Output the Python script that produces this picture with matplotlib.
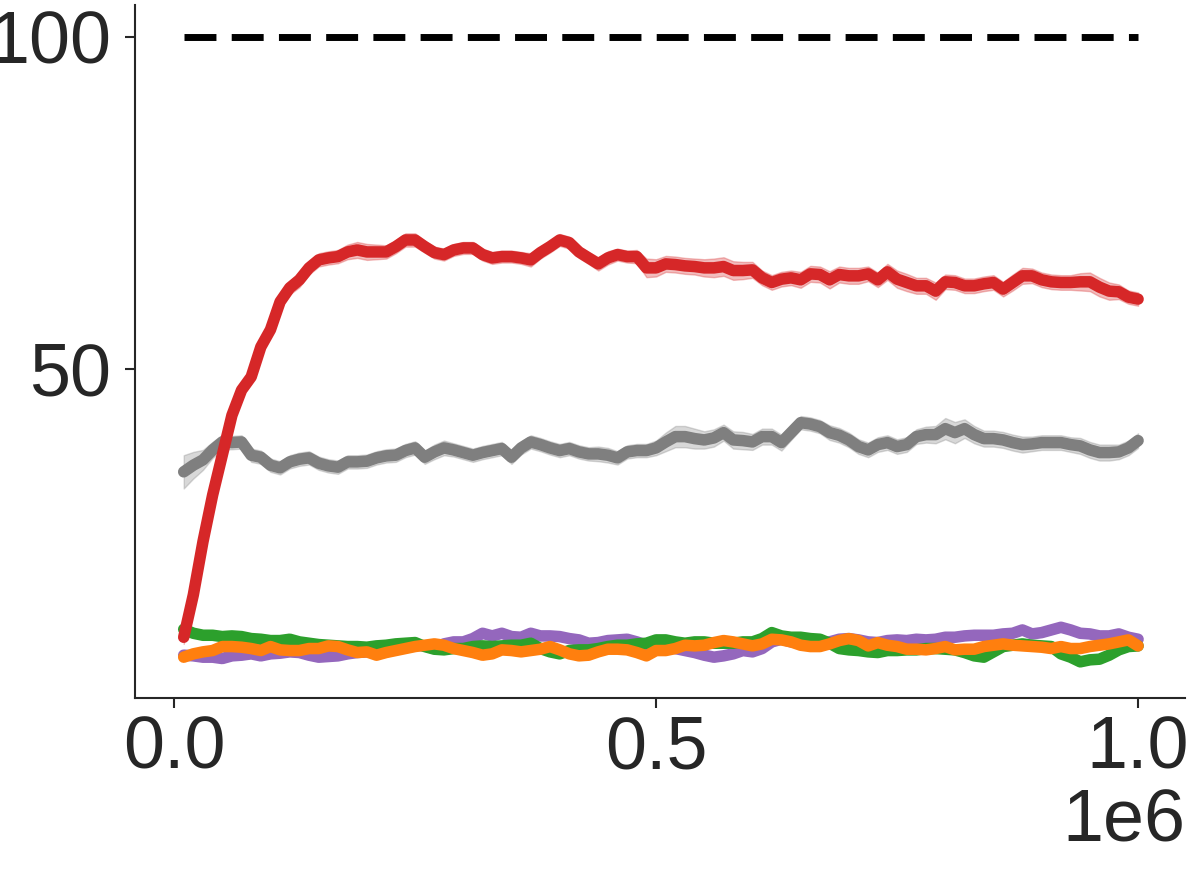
import matplotlib
matplotlib.use("Agg")
import matplotlib.pyplot as plt
import numpy as np

# training steps (x axis), 100 evaluation points
steps = np.arange(1, 101) * 10000

red = [9.6, 16.0, 24.0, 31.0, 37.0, 43.0, 46.8, 48.8, 53.3, 55.9,
       60.1, 62.2, 63.4, 65.2, 66.4, 66.7, 66.9, 67.6, 67.9, 67.6,
       67.6, 67.6, 68.4, 69.4, 69.4, 68.4, 67.5, 67.2, 67.9, 68.2,
       68.2, 67.2, 66.7, 66.9, 66.9, 66.7, 66.4, 67.5, 68.4, 69.4,
       69.0, 67.6, 66.7, 65.8, 66.7, 67.2, 66.9, 66.9, 65.2, 65.2,
       65.8, 65.7, 65.5, 65.4, 65.2, 65.2, 65.4, 64.8, 64.8, 64.9,
       63.7, 63.0, 63.5, 63.7, 63.4, 64.3, 64.2, 63.4, 64.2, 64.0,
       64.0, 64.3, 63.4, 64.6, 63.5, 63.0, 62.5, 62.5, 61.7, 63.1,
       63.0, 62.5, 62.5, 62.8, 63.0, 62.0, 63.0, 64.0, 64.0, 63.4,
       63.1, 63.0, 63.0, 63.1, 63.1, 62.3, 61.7, 61.6, 60.8, 60.5]
red_std = [1.0, 1.0, 1.0, 1.0, 1.0, 1.0, 1.0, 1.0, 1.0, 1.0,
           1.0, 1.0, 1.1, 1.0, 1.0, 1.0, 1.0, 1.1, 1.2, 1.2,
           1.1, 1.0, 1.0, 1.0, 1.0, 0.9, 0.9, 0.9, 0.9, 0.9,
           0.9, 0.9, 0.9, 0.9, 0.9, 0.9, 1.0, 0.9, 0.9, 0.9,
           0.9, 0.9, 0.9, 1.0, 1.0, 0.9, 0.9, 1.0, 1.4, 1.3,
           1.2, 1.2, 1.2, 1.2, 1.3, 1.4, 1.4, 1.4, 1.3, 1.2,
           1.1, 1.1, 1.1, 1.1, 1.2, 1.2, 1.2, 1.3, 1.2, 1.2,
           1.2, 1.1, 1.1, 1.2, 1.3, 1.3, 1.2, 1.2, 1.3, 1.1,
           1.1, 1.1, 1.1, 1.1, 1.1, 1.1, 1.2, 1.2, 1.1, 1.1,
           1.1, 1.1, 1.1, 1.3, 1.4, 1.4, 1.3, 1.1, 1.0, 1.0]

grey = [34.5, 35.5, 36.3, 37.8, 39.0, 38.9, 39.0, 37.0, 36.7, 35.5,
        35.1, 36.0, 36.4, 36.6, 35.8, 35.4, 35.2, 36.0, 36.0, 36.1,
        36.6, 36.9, 37.0, 37.7, 38.1, 36.7, 37.5, 38.1, 37.8, 37.4,
        37.0, 37.4, 37.7, 38.0, 36.7, 38.1, 39.0, 38.6, 38.1, 37.7,
        38.0, 37.5, 37.2, 37.2, 37.0, 36.6, 37.5, 37.7, 37.7, 38.1,
        39.0, 39.8, 39.8, 39.5, 39.3, 39.6, 40.4, 39.3, 39.2, 39.0,
        39.8, 39.8, 38.9, 40.4, 41.9, 41.7, 41.3, 40.4, 40.0, 39.3,
        38.3, 37.8, 38.6, 38.9, 38.3, 38.6, 39.8, 40.1, 40.1, 41.0,
        40.4, 41.0, 40.1, 39.5, 39.5, 39.3, 38.9, 38.6, 38.7, 38.9,
        38.9, 38.9, 38.6, 38.4, 37.8, 37.4, 37.4, 37.5, 38.1, 39.2]
grey_std = [2.5, 2.0, 1.5, 1.2, 1.1, 1.0, 1.0, 1.0, 1.0, 1.0,
            1.0, 1.0, 1.0, 1.0, 1.0, 1.0, 1.0, 1.0, 1.0, 1.0,
            1.0, 1.0, 1.0, 1.0, 1.0, 1.0, 1.1, 1.1, 1.0, 1.0,
            1.0, 1.0, 1.0, 1.0, 1.0, 1.0, 1.0, 1.0, 1.0, 1.0,
            1.0, 1.0, 1.0, 1.1, 1.1, 1.0, 1.0, 1.0, 1.0, 1.1,
            1.4, 1.6, 1.6, 1.5, 1.3, 1.3, 1.2, 1.3, 1.3, 1.2,
            1.2, 1.2, 1.2, 1.1, 1.0, 1.0, 1.0, 1.1, 1.1, 1.1,
            1.1, 1.1, 1.1, 1.1, 1.1, 1.1, 1.1, 1.2, 1.3, 1.6,
            1.6, 1.4, 1.3, 1.2, 1.2, 1.2, 1.2, 1.2, 1.1, 1.1,
            1.1, 1.1, 1.1, 1.2, 1.2, 1.2, 1.2, 1.1, 1.1, 1.1]

green = [10.8, 10.2, 9.9, 9.9, 9.7, 9.8, 9.7, 9.4, 9.3, 9.1,
         9.1, 9.3, 8.9, 8.7, 8.5, 8.4, 8.3, 8.2, 8.2, 8.1,
         8.3, 8.4, 8.6, 8.7, 8.8, 8.2, 7.8, 7.7, 7.9, 7.9,
         8.2, 8.3, 8.2, 8.3, 8.4, 8.4, 8.7, 7.9, 7.4, 7.1,
         7.6, 7.7, 7.7, 7.9, 8.2, 8.4, 8.4, 8.6, 8.7, 9.2,
         9.2, 8.9, 8.7, 8.9, 8.9, 8.7, 8.7, 8.7, 8.9, 8.9,
         9.4, 10.3, 9.8, 9.6, 9.6, 9.4, 9.3, 8.7, 7.9, 7.7,
         7.6, 7.4, 7.3, 7.6, 7.6, 7.7, 7.7, 7.9, 7.9, 7.8,
         7.7, 7.3, 6.8, 6.6, 7.4, 8.2, 8.4, 8.6, 8.4, 8.3,
         8.2, 7.1, 6.6, 5.9, 6.2, 6.3, 6.9, 7.7, 8.2, 8.3]

purple = [6.9, 6.8, 6.6, 6.6, 6.4, 6.8, 6.9, 7.1, 6.8, 7.1,
          7.2, 7.4, 7.3, 6.9, 6.6, 6.7, 6.8, 7.1, 7.3, 7.4,
          7.4, 7.7, 7.9, 8.2, 8.4, 8.3, 7.9, 8.6, 8.9, 8.9,
          9.4, 10.2, 9.8, 10.2, 9.7, 9.6, 10.2, 9.8, 9.8, 9.7,
          9.4, 9.2, 8.7, 8.8, 9.1, 9.2, 9.3, 8.9, 8.4, 8.2,
          8.2, 7.9, 7.6, 7.3, 6.9, 6.6, 6.8, 7.1, 7.6, 7.4,
          7.9, 8.9, 9.3, 8.9, 8.7, 8.8, 8.7, 8.9, 9.3, 9.4,
          9.2, 8.9, 8.8, 9.1, 9.2, 9.1, 9.3, 9.2, 9.3, 9.6,
          9.6, 9.8, 9.9, 9.9, 9.9, 10.1, 10.2, 10.7, 10.1, 10.3,
          10.7, 11.1, 10.7, 10.2, 10.1, 9.8, 9.8, 10.1, 9.6, 9.3]

orange = [6.6, 7.1, 7.4, 7.6, 8.2, 8.2, 8.1, 7.9, 7.6, 8.2,
          7.7, 7.6, 7.6, 7.9, 7.9, 8.3, 8.2, 7.7, 7.3, 7.4,
          6.9, 7.3, 7.6, 7.9, 8.2, 8.4, 8.6, 8.4, 7.9, 7.6,
          7.3, 6.9, 7.1, 7.7, 7.6, 7.4, 7.6, 7.8, 8.2, 7.7,
          7.1, 6.8, 6.9, 7.4, 7.8, 7.8, 7.7, 7.3, 6.8, 7.6,
          7.6, 7.9, 8.4, 8.3, 8.4, 8.8, 9.1, 8.9, 8.6, 8.3,
          8.6, 9.3, 9.2, 8.9, 8.4, 8.2, 8.2, 8.6, 9.1, 9.4,
          9.1, 8.3, 8.8, 8.4, 8.2, 7.8, 7.8, 7.7, 7.9, 8.2,
          7.7, 7.8, 7.8, 8.2, 8.4, 8.6, 8.4, 8.3, 8.2, 8.1,
          7.9, 8.2, 7.9, 7.9, 8.2, 8.4, 8.6, 8.9, 9.2, 8.3]

# the low curves have narrow bands, mostly hidden under the line
low_std = [0.6] * 100
target = [100] * 100

plt.rcParams['font.family'] = ['Liberation Sans', 'DejaVu Sans']

fig = plt.figure(figsize=(11.96, 8.72), dpi=100)
ax = fig.add_axes([0.1129, 0.1995, 0.878, 0.795])

series = [
    (grey, grey_std, '#7f7f7f'),
    (purple, low_std, '#9467bd'),
    (green, low_std, '#2ca02c'),
    (orange, low_std, '#ff7f0e'),
    (red, red_std, '#d62728'),
]
for mean, std, col in series:
    mean = np.array(mean)
    std = np.array(std)
    ax.fill_between(steps, mean - std, mean + std, color=col, alpha=0.3)
    ax.plot(steps, mean, color=col, lw=8.3, solid_capstyle='round',
            solid_joinstyle='round')

ax.plot(steps, target, color='black', lw=5.0, linestyle=(0, (4.6, 2.2)))

ax.set_xlim(-0.0405e6, 1.0488e6)
ax.set_ylim(0.45, 104.8)
ax.set_xticks([0, 0.5e6, 1.0e6])
ax.set_yticks([50, 100])
ax.ticklabel_format(axis='x', style='sci', scilimits=(0, 0))

for side in ['top', 'right']:
    ax.spines[side].set_visible(False)
for side in ['left', 'bottom']:
    ax.spines[side].set_linewidth(1.5)
    ax.spines[side].set_color('#262626')

ax.tick_params(axis='both', labelsize=53, colors='#262626', length=7, width=1.5)
ax.tick_params(axis='x', pad=5)
ax.tick_params(axis='y', pad=10)
ax.xaxis.get_offset_text().set_fontsize(53)
ax.xaxis.get_offset_text().set_color('#262626')

fig.savefig('out.png', dpi=100)
